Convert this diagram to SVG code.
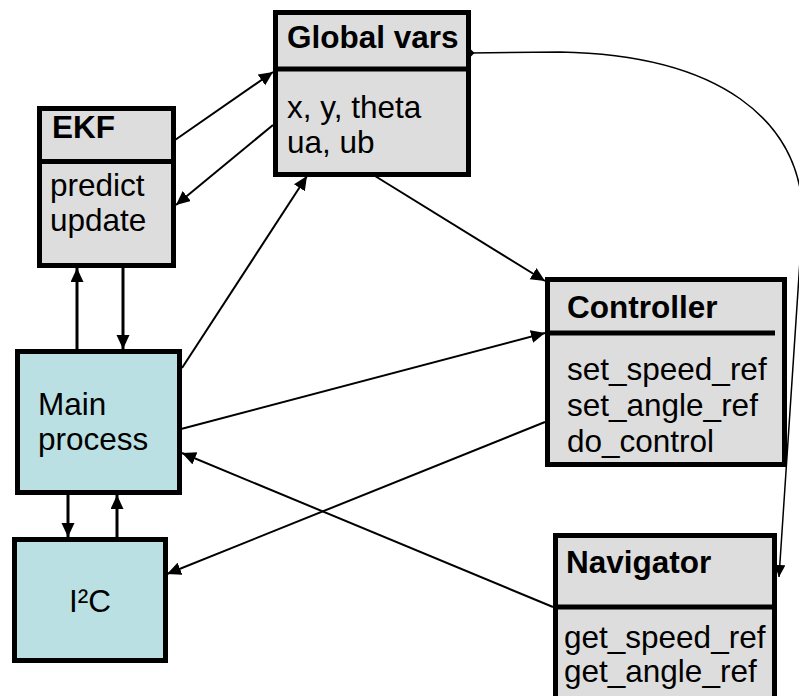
<svg xmlns="http://www.w3.org/2000/svg" width="799" height="696" viewBox="0 0 799 696">
<style>
.box{stroke:#000;stroke-width:5}
.gray{fill:#DDDDDD}
.cyan{fill:#BBE0E3}
.div{stroke:#000;stroke-width:5}
.t{font-family:"Liberation Sans",Arial,sans-serif;font-size:31.5px;fill:#000}
.b{font-weight:bold}
.c{stroke:#000;stroke-width:2;fill:none}
.v{stroke-width:3}
.thin{stroke-width:1.5}
</style>
<defs>
<marker id="ah" markerUnits="userSpaceOnUse" markerWidth="16" markerHeight="14" refX="14" refY="6.5" orient="auto">
<path d="M0,0 L14,6.5 L0,13 z" fill="#000"/>
</marker>
<marker id="ahs" markerUnits="userSpaceOnUse" markerWidth="14" markerHeight="12" refX="12" refY="5.5" orient="auto">
<path d="M0,0 L12,5.5 L0,11 z" fill="#000"/>
</marker>
</defs>
<rect width="799" height="696" fill="#fff"/>
<g id="connectors">
<line class="c" x1="175" y1="140" x2="273" y2="72" marker-end="url(#ah)"/>
<line class="c" x1="273" y1="125" x2="176" y2="205" marker-end="url(#ah)"/>
<line class="c" x1="182" y1="368" x2="307" y2="176" marker-end="url(#ah)"/>
<line class="c" x1="375" y1="176" x2="545" y2="281" marker-end="url(#ah)"/>
<line class="c" x1="181" y1="429" x2="545" y2="333" marker-end="url(#ah)"/>
<line class="c" x1="545" y1="422" x2="167" y2="574" marker-end="url(#ah)"/>
<line class="c" x1="553" y1="607" x2="182" y2="453" marker-end="url(#ah)"/>
<line class="c v" x1="77" y1="349" x2="77" y2="268" marker-end="url(#ah)"/>
<line class="c v" x1="123" y1="268" x2="123" y2="349" marker-end="url(#ah)"/>
<line class="c v" x1="68" y1="495" x2="68" y2="537" marker-end="url(#ah)"/>
<line class="c v" x1="117" y1="537" x2="117" y2="495" marker-end="url(#ah)"/>
<path class="c thin" d="M470,53 L560,52 C720,55 800,120 803,215 L779,577" marker-end="url(#ahs)"/>
<path d="M465.5,53 L470,48.5 L474.5,53 L470,57.5 z" fill="#000"/>
</g>
<g id="global-vars">
<rect class="box gray" x="275.5" y="12.5" width="193" height="162"/>
<line class="div" x1="275.5" y1="69" x2="468.5" y2="69"/>
<text class="t b" x="287" y="48">Global vars</text>
<text class="t" x="287" y="118">x, y, theta</text>
<text class="t" x="287" y="153">ua, ub</text>
</g>
<g id="ekf">
<rect class="box gray" x="39.5" y="108.5" width="134" height="157"/>
<line class="div" x1="39.5" y1="161.5" x2="173.5" y2="161.5"/>
<text class="t b" x="52" y="138">EKF</text>
<text class="t" x="50" y="196">predict</text>
<text class="t" x="50" y="231">update</text>
</g>
<g id="main-process">
<rect class="box cyan" x="17.5" y="351.5" width="162" height="141"/>
<text class="t" x="38" y="415">Main</text>
<text class="t" x="38" y="450">process</text>
</g>
<g id="i2c">
<rect class="box cyan" x="14.5" y="539.5" width="151" height="121"/>
<text class="t" x="90" y="612" text-anchor="middle">I²C</text>
</g>
<g id="controller">
<rect class="box gray" x="547.5" y="279.5" width="237" height="185"/>
<line class="div" x1="547.5" y1="333" x2="775" y2="333"/>
<text class="t b" x="567" y="318">Controller</text>
<text class="t" x="567" y="380">set_speed_ref</text>
<text class="t" x="567" y="416">set_angle_ref</text>
<text class="t" x="567" y="452">do_control</text>
</g>
<g id="navigator">
<rect class="box gray" x="555.5" y="535.5" width="219" height="170"/>
<line class="div" x1="555.5" y1="607" x2="774.5" y2="607"/>
<text class="t b" x="566" y="573">Navigator</text>
<text class="t" x="564" y="648">get_speed_ref</text>
<text class="t" x="564" y="682">get_angle_ref</text>
</g>
</svg>
